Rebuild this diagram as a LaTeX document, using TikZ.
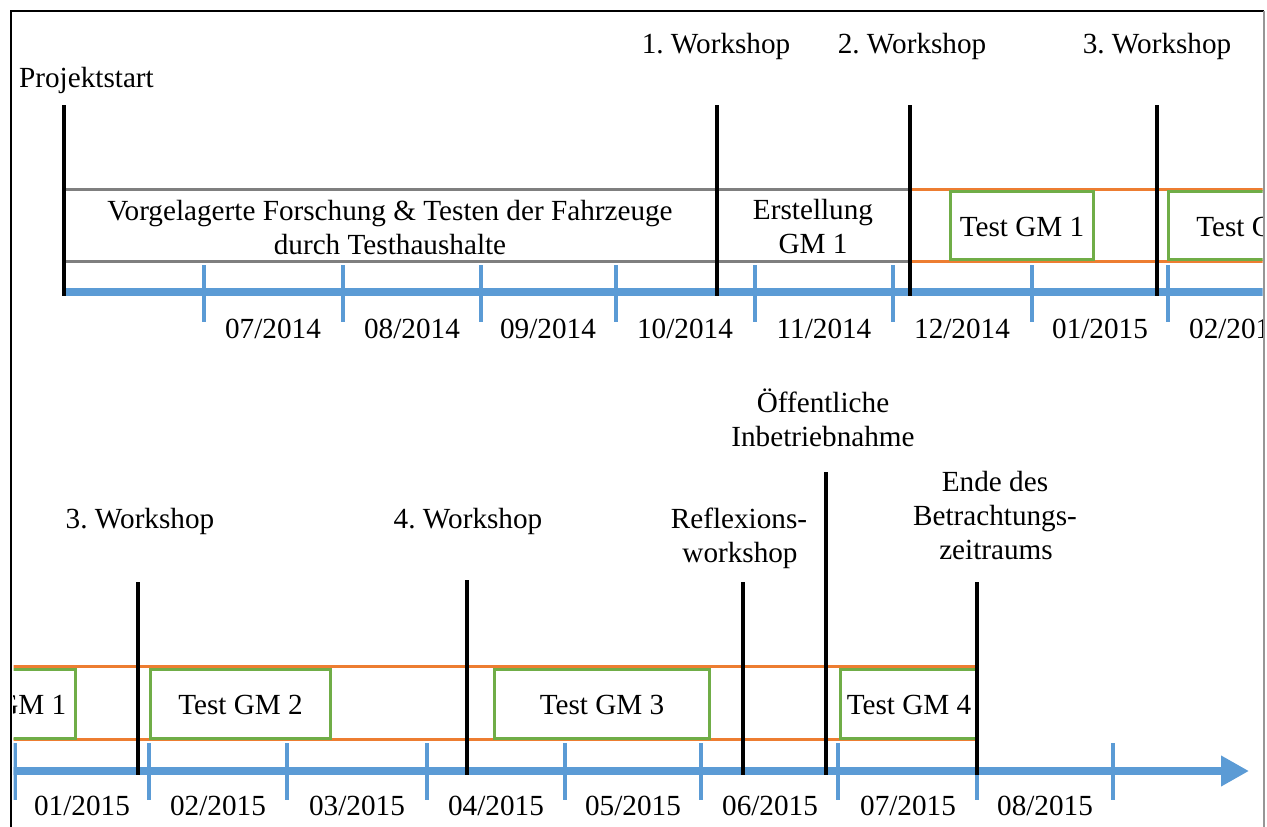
\documentclass[tikz,border=0pt]{standalone}
\usepackage{fontspec}
\setmainfont{Liberation Serif}
\usetikzlibrary{arrows.meta}

\definecolor{axisblue}{RGB}{91,155,213}
\definecolor{phaseorange}{RGB}{237,125,49}
\definecolor{testgreen}{RGB}{112,173,71}
\definecolor{phasegray}{RGB}{127,127,127}
\definecolor{framegray}{RGB}{150,150,150}

\tikzset{
  lbl/.style={font=\fontsize{29.2}{35}\selectfont, inner sep=0pt, anchor=base},
  milestone/.style={line width=4pt, black},
  monthtick/.style={line width=3.5pt, axisblue},
  axisline/.style={line width=8pt, axisblue},
  prepline/.style={line width=3pt, phasegray},
  testline/.style={line width=3pt, phaseorange},
  testbox/.style={draw=testgreen, line width=3pt, fill=white, inner sep=0pt,
    text height=22pt, text depth=0pt,
    font=\fontsize{29.2}{35}\selectfont},
}

\begin{document}
\frenchspacing
\begin{tikzpicture}[x=1pt,y=-1pt]
\useasboundingbox (0,0) rectangle (1267,827);

% outer frame
\draw[black, line width=2.5pt] (11,827) -- (11,11) -- (1264,11);
\draw[framegray, line width=1.5pt] (1264,11) -- (1264,827);

\begin{scope}
\clip (13.5,13) rectangle (1262.5,827);

% ---------------- first timeline (2014) ----------------
% preparation phases
\draw[prepline] (64,189.5) -- (910,189.5);
\draw[prepline] (64,261) -- (910,261);
% test phase band
\draw[testline] (910,189) -- (1263,189);
\draw[testline] (910,261.5) -- (1263,261.5);
\node[testbox, minimum width=143pt, minimum height=68pt] (gm1top) at (1022,225) {Test GM 1};
\node[testbox, minimum width=180pt, minimum height=68pt] (gm2top) at (1258.5,225) {Test GM 2};

\node[lbl] (vorg1) at (390,220) {Vorgelagerte Forschung \& Testen der Fahrzeuge};
\node[lbl] (vorg2) at (390,254) {durch Testhaushalte};
\node[lbl] (erst1) at (813,219) {Erstellung};
\node[lbl] (erst2) at (813,253) {GM 1};

% time axis
\draw[axisline] (64,292) -- (1263,292);
\foreach \x in {204,343,481,616,755,893,1032,1168}
  \draw[monthtick] (\x,265) -- (\x,322);
\foreach \x/\mo/\yr in {273/07/2014,412/08/2014,548/09/2014,685/10/2014,
                        824/11/2014,962/12/2014,1100/01/2015,1237/02/2015}
  \node[lbl] (top-\mo-\yr) at (\x,338) {\mo/\yr};

% milestones
\draw[milestone] (64,105) -- (64,296);
\draw[milestone] (717,105) -- (717,296);
\draw[milestone] (910,105) -- (910,296);
\draw[milestone] (1157,105) -- (1157,296);
\node[lbl] (start) at (86.5,87) {Projektstart};
\node[lbl] (ws1) at (716,53) {1. Workshop};
\node[lbl] (ws2) at (912,53) {2. Workshop};
\node[lbl] (ws3top) at (1157,53) {3. Workshop};

% ---------------- second timeline (2015) ----------------
\draw[testline] (13,666.5) -- (977,666.5);
\draw[testline] (13,739.5) -- (977,739.5);
\node[testbox, minimum width=143pt, minimum height=69pt] (gm1bot) at (4,703.5) {Test GM 1};
\node[testbox, minimum width=180pt, minimum height=69pt] (gm2) at (240.5,703.5) {Test GM 2};
\node[testbox, minimum width=215pt, minimum height=69pt] (gm3) at (602,703.5) {Test GM 3};
\node[testbox, minimum width=137pt, minimum height=69pt] (gm4) at (909,703.5) {Test GM 4};

% time axis with arrow
\draw[axisline, -{Triangle[length=28pt,width=29pt]}] (13,771) -- (1249,771);
\foreach \x in {15,149,287,427,565,701,838,977,1113}
  \draw[monthtick] (\x,743) -- (\x,800);
\foreach \x/\mo/\yr in {82/01/2015,218/02/2015,357/03/2015,496/04/2015,
                        633/05/2015,770/06/2015,908/07/2015,1045/08/2015}
  \node[lbl] (bot-\mo-\yr) at (\x,815) {\mo/\yr};

% milestones
\draw[milestone] (138,582) -- (138,775);
\draw[milestone] (467,580) -- (467,775);
\draw[milestone] (743,582) -- (743,775);
\draw[milestone] (826,472) -- (826,775);
\draw[milestone] (977,582) -- (977,775);
\node[lbl] (ws3) at (140,528) {3. Workshop};
\node[lbl] (ws4) at (468,528) {4. Workshop};
\node[lbl] (refl1) at (739,528) {Reflexions-};
\node[lbl] (refl2) at (740,562) {workshop};
\node[lbl] (oeff1) at (823,412) {Öffentliche};
\node[lbl] (oeff2) at (823,446) {Inbetriebnahme};
\node[lbl] (ende1) at (995,491) {Ende des};
\node[lbl] (ende2) at (995,525) {Betrachtungs-};
\node[lbl] (ende3) at (996,559) {zeitraums};
\end{scope}
\end{tikzpicture}
\end{document}
